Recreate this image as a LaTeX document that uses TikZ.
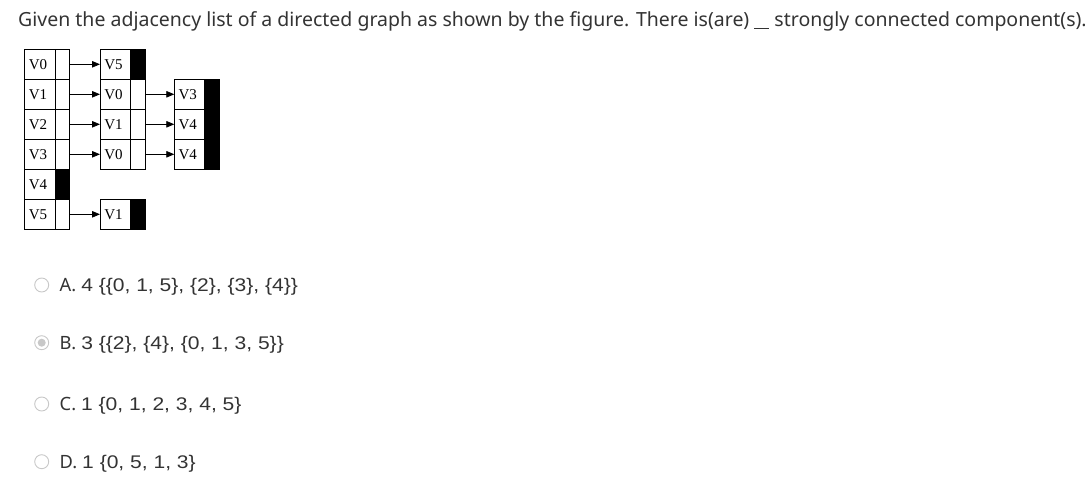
\documentclass[tikz,border=0pt]{standalone}
\usepackage{fontspec}
\setmainfont{Noto Sans}
\newfontfamily\optfont[FakeStretch=1.15]{Liberation Sans}
\newfontfamily\cellfont{Liberation Serif}
\usetikzlibrary{arrows.meta,positioning}
\definecolor{txt}{HTML}{333333}
\definecolor{radio}{HTML}{C8C8C8}
\begin{document}
\begin{tikzpicture}[
    x=1pt, y=-1pt,
    data/.style={rectangle, draw=black, line width=0.8pt, minimum width=30.5pt, minimum height=30pt, inner sep=0pt, outer sep=0pt, anchor=north west, text width=22pt, align=left, font=\cellfont\fontsize{15}{15}\selectfont},
    ptr/.style={rectangle, draw=black, line width=0.8pt, minimum width=14.5pt, minimum height=30pt, inner sep=0pt, outer sep=0pt},
    nil/.style={fill=black},
    arrow/.style={-{Triangle[length=8pt,width=6.5pt]}, line width=0.8pt},
    opt/.style={anchor=base west, text=txt, inner sep=0pt, font=\fontsize{18.3}{18.3}\selectfont},
    radiobtn/.style={circle, draw=radio, fill=white, line width=0.9pt, minimum size=14pt, inner sep=0pt}
]
\useasboundingbox (0,0) rectangle (1085,500);

% Question
\node[anchor=base west, inner sep=0pt, text=txt, font=\fontsize{19.5}{19.5}\selectfont] (question) at (18,26.5)
    {Given the adjacency list of a directed graph as shown by the figure. There is(are) \underline{\hspace{15pt}} strongly connected component(s).};

% Vertex table (column 1)
\foreach \i/\name/\state in {
    0/V0/,
    1/V1/,
    2/V2/,
    3/V3/,
    4/V4/nil,
    5/V5/} {
    \node[data] (a\i) at (24.5, 49.3+30*\i) {\name};
    \node[ptr, \state, right=0pt of a\i] (ap\i) {};
}

% First edge nodes (column 2)
\foreach \i/\name/\state in {
    0/V5/nil,
    1/V0/,
    2/V1/,
    3/V0/,
    5/V1/nil} {
    \node[data] (b\i) at (100, 49.3+30*\i) {\name};
    \node[ptr, \state, right=0pt of b\i] (bp\i) {};
    \draw[arrow] (ap\i.east) -- (b\i.west);
}

% Second edge nodes (column 3)
\foreach \i/\name in {
    1/V3,
    2/V4,
    3/V4} {
    \node[data] (c\i) at (174.3, 49.3+30*\i) {\name};
    \node[ptr, nil, right=0pt of c\i] (cp\i) {};
    \draw[arrow] (bp\i.east) -- (c\i.west);
}

% Answer options
\node[radiobtn] (ra) at (41.7,285) {};
\node[opt] (oa) at (59.5,291.5) {A.\hspace{5pt}{\optfont 4 \{\{0, 1, 5\}, \{2\}, \{3\}, \{4\}\}}};
\node[radiobtn] (rb) at (41.7,342.7) {};
\node[circle, fill=radio, minimum size=8pt, inner sep=0pt] (rbdot) at (rb.center) {};
\node[opt] (ob) at (59.5,349.2) {B.\hspace{5pt}{\optfont 3 \{\{2\}, \{4\}, \{0, 1, 3, 5\}\}}};
\node[radiobtn] (rc) at (41.7,404) {};
\node[opt] (oc) at (59.5,410.5) {C.\hspace{5pt}{\optfont 1 \{0, 1, 2, 3, 4, 5\}}};
\node[radiobtn] (rd) at (41.7,461.7) {};
\node[opt] (od) at (59.5,468.2) {D.\hspace{5pt}{\optfont 1 \{0, 5, 1, 3\}}};

\end{tikzpicture}
\end{document}
